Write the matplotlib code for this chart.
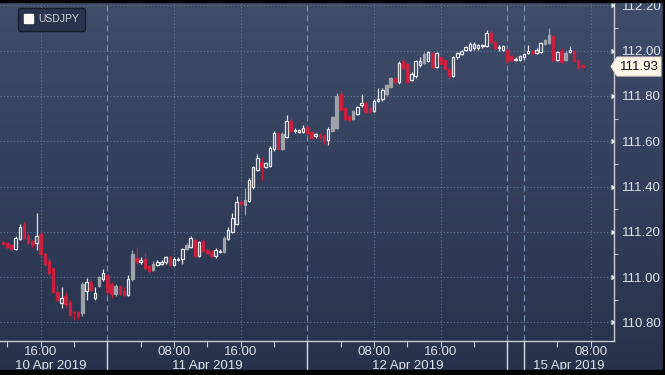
import numpy as np
import matplotlib
matplotlib.use("Agg")
import matplotlib.pyplot as plt
from matplotlib.patches import Rectangle, Polygon, Patch
from matplotlib.transforms import blended_transform_factory

# 30-minute USDJPY candles, 10 Apr 2019 11:30 -> 15 Apr 2019 ~05:00 (weekend removed)
opens = [
    111.155, 111.15, 111.14, 111.125, 111.17, 111.235, 111.18, 111.16, 111.15, 111.19,
    111.10, 111.07, 111.04, 110.935, 110.885, 110.915, 110.885, 110.845, 110.845, 110.84,
    110.94, 110.98, 110.91, 110.96, 110.99, 111.01, 110.97, 110.925, 110.96, 110.94,
    110.92, 110.99, 111.085, 111.065, 111.08, 111.05, 111.03, 111.055, 111.06, 111.065,
    111.09, 111.055, 111.075, 111.08, 111.125, 111.135, 111.165, 111.095, 111.16, 111.12,
    111.11, 111.095, 111.11, 111.11, 111.17, 111.20, 111.235, 111.33, 111.32, 111.335,
    111.40, 111.475, 111.51, 111.485, 111.49, 111.565, 111.635, 111.565, 111.62, 111.69,
    111.645, 111.643, 111.64, 111.665, 111.64, 111.625, 111.63, 111.625, 111.605, 111.645,
    111.66, 111.81, 111.745, 111.71, 111.70, 111.72, 111.76, 111.77, 111.745, 111.735,
    111.78, 111.785, 111.81, 111.84, 111.88, 111.86, 111.955, 111.94, 111.87, 111.89,
    111.935, 111.945, 111.955, 111.99, 111.93, 111.97, 111.96, 111.92, 111.89, 111.97,
    111.985, 112.005, 112.005, 112.01, 112.01, 112.02, 112.02, 112.08, 112.04, 112.01,
    112.005, 112.005, 111.975, 111.958, 111.96, 111.97, 111.99, 112.0, 111.99, 111.995,
    112.03, 112.035, 112.065, 111.96, 112.0, 111.96, 111.995, 112.0, 111.96, 111.935,
]
closes = [
    111.145, 111.135, 111.125, 111.175, 111.22, 111.175, 111.15, 111.14, 111.18, 111.10,
    111.06, 111.02, 110.935, 110.90, 110.91, 110.88, 110.835, 110.84, 110.83, 110.97,
    110.98, 110.945, 110.93, 111.00, 111.02, 110.935, 110.925, 110.96, 110.925, 110.92,
    110.99, 111.10, 111.065, 111.075, 111.04, 111.025, 111.06, 111.065, 111.065, 111.09,
    111.055, 111.08, 111.08, 111.125, 111.14, 111.175, 111.095, 111.155, 111.115, 111.105,
    111.095, 111.12, 111.115, 111.175, 111.21, 111.26, 111.33, 111.325, 111.34, 111.43,
    111.485, 111.525, 111.485, 111.505, 111.57, 111.635, 111.565, 111.63, 111.69, 111.645,
    111.65, 111.648, 111.66, 111.635, 111.615, 111.63, 111.62, 111.60, 111.655, 111.705,
    111.80, 111.74, 111.70, 111.695, 111.735, 111.75, 111.77, 111.73, 111.73, 111.78,
    111.785, 111.825, 111.85, 111.88, 111.86, 111.945, 111.925, 111.86, 111.895, 111.955,
    111.955, 111.985, 111.995, 111.93, 111.99, 111.94, 111.92, 111.89, 111.97, 111.99,
    112.00, 112.015, 112.03, 112.03, 112.025, 112.022, 112.08, 112.04, 112.01, 112.015,
    112.02, 111.955, 111.96, 111.962, 111.975, 111.985, 112.00, 111.99, 112.005, 112.035,
    112.045, 112.07, 111.96, 111.995, 111.95, 111.99, 112.005, 111.955, 111.925, 111.93,
]
highs = [
    111.16, 111.155, 111.145, 111.18, 111.235, 111.245, 111.19, 111.165, 111.285, 111.205,
    111.11, 111.085, 111.045, 110.965, 110.955, 110.935, 110.90, 110.85, 110.85, 110.98,
    110.995, 110.99, 110.955, 111.005, 111.035, 111.015, 110.98, 110.97, 110.965, 110.955,
    111.01, 111.12, 111.135, 111.09, 111.105, 111.055, 111.07, 111.075, 111.075, 111.095,
    111.095, 111.09, 111.09, 111.13, 111.15, 111.18, 111.175, 111.16, 111.17, 111.13,
    111.12, 111.13, 111.125, 111.18, 111.22, 111.285, 111.36, 111.34, 111.395, 111.44,
    111.49, 111.545, 111.53, 111.51, 111.58, 111.645, 111.64, 111.64, 111.715, 111.705,
    111.66, 111.655, 111.67, 111.67, 111.645, 111.635, 111.635, 111.63, 111.665, 111.71,
    111.815, 111.82, 111.75, 111.715, 111.74, 111.755, 111.81, 111.775, 111.75, 111.785,
    111.835, 111.835, 111.855, 111.885, 111.885, 111.955, 111.965, 111.945, 111.905, 111.96,
    111.97, 111.995, 112.00, 111.995, 111.995, 111.975, 111.965, 111.925, 111.975, 111.995,
    112.005, 112.02, 112.04, 112.04, 112.03, 112.03, 112.09, 112.09, 112.045, 112.025,
    112.025, 112.01, 111.98, 111.97, 111.98, 111.99, 112.025, 112.005, 112.01, 112.04,
    112.05, 112.10, 112.07, 112.00, 112.01, 112.0, 112.02, 112.005, 111.965, 111.94,
]
lows = [
    111.14, 111.13, 111.12, 111.12, 111.165, 111.17, 111.145, 111.13, 111.12, 111.09,
    111.05, 111.005, 110.93, 110.89, 110.865, 110.87, 110.83, 110.81, 110.815, 110.83,
    110.90, 110.94, 110.90, 110.955, 110.985, 110.92, 110.91, 110.915, 110.92, 110.915,
    110.915, 110.985, 111.06, 111.06, 111.03, 111.02, 111.025, 111.05, 111.055, 111.06,
    111.05, 111.05, 111.07, 111.06, 111.12, 111.13, 111.09, 111.09, 111.11, 111.10,
    111.09, 111.085, 111.105, 111.105, 111.165, 111.195, 111.23, 111.30, 111.275, 111.33,
    111.39, 111.47, 111.43, 111.48, 111.485, 111.555, 111.56, 111.56, 111.615, 111.64,
    111.635, 111.635, 111.635, 111.63, 111.61, 111.615, 111.61, 111.59, 111.585, 111.64,
    111.655, 111.735, 111.69, 111.69, 111.695, 111.715, 111.75, 111.725, 111.725, 111.73,
    111.775, 111.78, 111.80, 111.835, 111.855, 111.855, 111.92, 111.855, 111.865, 111.88,
    111.93, 111.94, 111.95, 111.925, 111.925, 111.935, 111.915, 111.87, 111.885, 111.965,
    111.98, 112.0, 112.0, 112.005, 112.005, 112.01, 112.015, 112.035, 112.005, 112.00,
    112.0, 111.935, 111.955, 111.955, 111.955, 111.965, 111.985, 111.985, 111.985, 111.99,
    112.025, 112.03, 111.955, 111.955, 111.945, 111.955, 111.99, 111.95, 111.92, 111.925,
]
# u = hollow up bar, d = red down bar, g = grey filled bar
kinds = ("ddduudddud" "dddduddddg" "udugudd" "gdd" "ugduddguuu" "duuugududd"
         "duuguuudgu" "uuduuudgud" "uuudduddug" "gdddguuddu" "uuggdudduu"
         "ugududdduu" "uuuuuuuddu" "udduuuuduu" "ggdudguddd")

last_price = 111.93
series_name = "USDJPY"

# x axis is in candle index (2 per hour); tick positions/labels
time_ticks = [9, 41, 57, 89, 105, 141]
time_labels = ["16:00", "08:00", "16:00", "08:00", "16:00", "08:00"]
day_breaks = [25, 73, 121, 125]
date_pos = [11.5, 49, 97, 135.8]
date_labels = ["10 Apr 2019", "11 Apr 2019", "12 Apr 2019", "15 Apr 2019"]
minor_x = list(range(1, 122, 8)) + [125, 133, 141]
y_ticks = [110.80, 111.00, 111.20, 111.40, 111.60, 111.80, 112.00, 112.20]

UP = "#e4e6ea"
DOWN = "#c8203e"
GREY = "#9ea3ab"
GRID = "#5f7594"

W, H = 665, 375
fig = plt.figure(figsize=(W / 100, H / 100), dpi=100)

# background gradient
bg = fig.add_axes([0, 0, 1, 1], zorder=0)
grad = np.linspace(0, 1, 256).reshape(-1, 1)
cmap = matplotlib.colors.LinearSegmentedColormap.from_list("bg", ["#3f4d6a", "#27324a"])
bg.imshow(grad, aspect="auto", cmap=cmap, extent=[0, 1, 0, 1], origin="upper")
bg.set_axis_off()

ax = fig.add_axes([0, 1 - 341 / H, 614 / W, 339 / H], zorder=1)
ax.patch.set_alpha(0)
ax.set_xlim(-0.77, 146.6)
ax.set_ylim(110.718, 112.215)

x = np.arange(len(closes))
o = np.array(opens)
c = np.array(closes)
hi = np.array(highs)
lo = np.array(lows)

for i in x:
    k = kinds[i]
    col = {"u": UP, "d": DOWN, "g": GREY}[k]
    ax.vlines(i, lo[i], hi[i], color=col, lw=0.9, zorder=3)
    b = min(o[i], c[i])
    h = max(abs(c[i] - o[i]), 0.003)
    if k == "u":
        ax.bar(i, h, bottom=b, width=0.62, facecolor="#34415b", edgecolor=UP, lw=0.9, zorder=4)
    else:
        ax.bar(i, h, bottom=b, width=0.62, facecolor=col, edgecolor=col, lw=0.9, zorder=4)

# grid
for yv in y_ticks:
    ax.axhline(yv, color=GRID, lw=0.8, ls=(0, (1, 2)), zorder=1)
for xv in time_ticks:
    ax.axvline(xv, color=GRID, lw=0.8, ls=(0, (1, 2)), zorder=1)
for xv in day_breaks:
    ax.axvline(xv, color="#6b8cac", lw=0.9, ls=(0, (5, 3)), zorder=1)

for s in ["top", "left"]:
    ax.spines[s].set_visible(False)
for s in ["right", "bottom"]:
    ax.spines[s].set_color("#c9cdd5")
    ax.spines[s].set_linewidth(1.0)

# y axis on right
ax.yaxis.tick_right()
ax.set_yticks(y_ticks)
ax.set_yticklabels([f"{v:.2f}" for v in y_ticks])
ax.set_yticks([v + 0.1 for v in y_ticks[:-1]], minor=True)
ax.tick_params(axis="y", which="major", length=0, pad=6, labelsize=9.5,
               labelcolor="#dfe3ea", labelfontfamily="Liberation Sans")
ax.tick_params(axis="y", which="minor", length=3, color="#b8bec8", width=0.8)
tr_y = blended_transform_factory(ax.transAxes, ax.transData)
ax.plot([1.0] * len(y_ticks), y_ticks, ls="none", marker=5, ms=3.2,
        color="#e6e9ee", transform=tr_y, clip_on=False, zorder=5)

# x axis
ax.set_xticks(minor_x)
ax.set_xticklabels([])
ax.tick_params(axis="x", length=4, color="#c9cdd5", width=0.8)
tr_x = blended_transform_factory(ax.transData, ax.transAxes)
for xv in day_breaks:
    ax.plot([xv, xv], [0, -29 / 339], color="#d8dce4", lw=1.0,
            transform=tr_x, clip_on=False)
for xv, t in zip(time_ticks, time_labels):
    ax.text(xv, -11 / 339, t, transform=tr_x, ha="center", va="center",
            fontsize=9.5, color="#dfe3ea", family="Liberation Sans")
for xv, t in zip(date_pos, date_labels):
    ax.text(xv, -25 / 339, t, transform=tr_x, ha="center", va="center",
            fontsize=9.5, color="#dfe3ea", family="Liberation Sans")

# legend
leg = ax.legend(handles=[Patch(facecolor="#fbf7f4", edgecolor="#fbf7f4", label=series_name)],
                loc="upper left", bbox_to_anchor=(18 / 614, 1 - 6 / 339), borderaxespad=0,
                handlelength=0.85, handleheight=0.85, handletextpad=0.5,
                borderpad=0.6, fancybox=True, framealpha=1,
                prop={"family": "Liberation Sans", "size": 7.5})
leg.get_frame().set_facecolor("#29344c")
leg.get_frame().set_edgecolor("#161c2a")
leg.get_frame().set_linewidth(1.0)
for t in leg.get_texts():
    t.set_color("#cfd5df")

# last price tag
yp = ax.transData.transform((0, last_price))[1] / H
hh = 9.5 / H
x0, x1, xt = 611 / W, 661 / W, 617 / W
tag = Polygon([(x0, yp), (xt, yp + hh), (x1, yp + hh), (x1, yp - hh), (xt, yp - hh)],
              closed=True, transform=fig.transFigure, facecolor="#fff6e8",
              edgecolor="#e8dcc8", lw=0.8, zorder=6)
fig.add_artist(tag)
fig.text(639.5 / W, yp, f"{last_price:.2f}", ha="center", va="center",
         fontsize=9.5, color="#111111", family="Liberation Sans", zorder=7)

# black frame strips
fig.add_artist(Rectangle((0, 1 - 2 / H), 1, 2 / H, transform=fig.transFigure,
                         color="black", zorder=8))
fig.add_artist(Rectangle((0, 0), 1, 5 / H, transform=fig.transFigure,
                         color="black", zorder=8))
fig.add_artist(Rectangle((1 - 2 / W, 0), 2 / W, 1, transform=fig.transFigure,
                         color="black", zorder=8))

fig.savefig("out.png", dpi=100)
